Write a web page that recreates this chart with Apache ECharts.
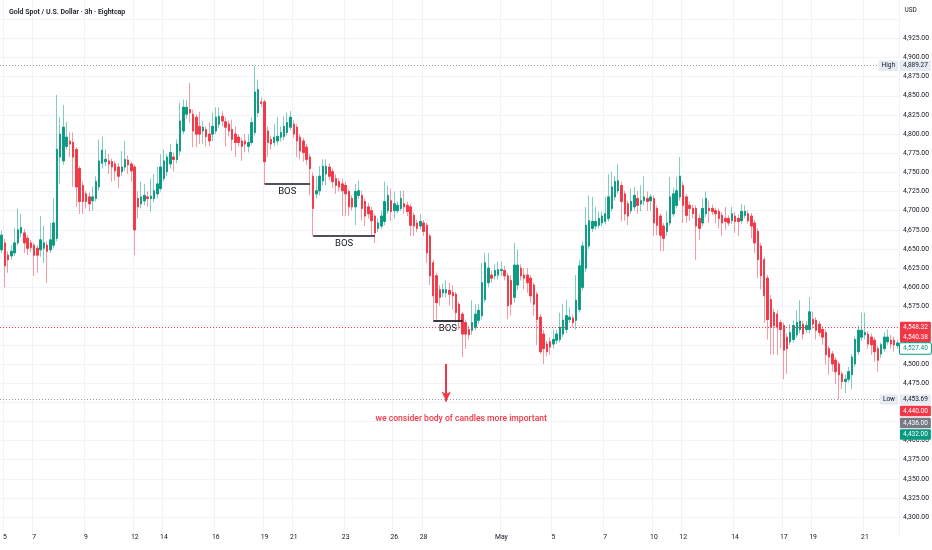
<!DOCTYPE html>
<html><head><meta charset="utf-8">
<script src="https://cdn.jsdelivr.net/npm/echarts@6/dist/echarts.min.js"></script>
<style>html,body{margin:0;padding:0;background:#fff}#c{width:932px;height:550px}</style>
</head><body><div id="c"></div>
<script>
// OHLC values, candle index k = -1 .. 275 (k = 0 is the Sunday 5 Apr candle)
const opens = [
4649,4658,4642,4641,4645,4658,4671,4671,4664,4658,
4655,4651,4649,4651,4655,4649,4655,4664,4770,4765,
4784,4791,4789,4780,4755,4733,4722,4718,4713,4716,
4731,4762,4764,4765,4764,4761,4757,4751,4757,4766,
4761,4757,4716,4709,4713,4718,4716,4716,4722,4729,
4742,4751,4761,4770,4767,4778,4804,4826,4832,4826,
4822,4810,4804,4806,4800,4800,4804,4813,4823,4816,
4813,4806,4800,4796,4791,4791,4784,4789,4802,4828,
4842,4842,4804,4793,4789,4791,4796,4797,4802,4809,
4813,4809,4796,4791,4783,4770,4745,4722,4726,4739,
4748,4757,4751,4742,4738,4735,4733,4725,4716,4705,
4720,4720,4712,4705,4700,4693,4677,4680,4686,4700,
4713,4700,4700,4703,4709,4707,4705,4694,4684,4680,
4684,4681,4667,4632,4615,4597,4593,4593,4596,4593,
4591,4578,4565,4554,4545,4544,4548,4557,4563,4584,
4606,4616,4615,4616,4622,4622,4615,4609,4587,4603,
4625,4616,4616,4612,4603,4591,4561,4539,4526,4529,
4526,4531,4532,4539,4545,4558,4560,4557,4571,4600,
4625,4654,4677,4680,4681,4684,4686,4690,4703,4718,
4726,4733,4722,4709,4700,4705,4716,4709,4713,4716,
4713,4716,4703,4693,4680,4673,4684,4696,4707,4718,
4733,4718,4707,4703,4703,4690,4684,4696,4703,4703,
4700,4699,4694,4690,4690,4687,4693,4690,4687,4694,
4696,4693,4684,4673,4654,4636,4612,4584,4567,4565,
4554,4550,4535,4529,4532,4538,4545,4552,4545,4545,
4558,4557,4552,4545,4541,4520,4513,4505,4500,4487,
4477,4480,4486,4500,4516,4535,4538,4539,4535,4531,
4520,4513,4520,4529,4531,4531,4524];
const closes = [
4668,4628,4636,4647,4658,4675,4678,4658,4651,4652,
4642,4642,4662,4658,4647,4662,4684,4780,4800,4809,
4796,4787,4770,4731,4712,4712,4712,4709,4718,4738,
4765,4779,4767,4761,4757,4752,4745,4757,4767,4760,
4752,4675,4705,4718,4720,4716,4719,4726,4735,4757,
4765,4770,4776,4767,4787,4817,4835,4835,4828,4804,
4800,4800,4809,4797,4791,4810,4822,4823,4817,4809,
4804,4793,4789,4789,4784,4787,4789,4815,4855,4858,
4840,4764,4789,4787,4796,4797,4802,4810,4815,4822,
4800,4791,4778,4776,4767,4755,4703,4726,4745,4758,
4758,4745,4738,4733,4731,4726,4722,4705,4705,4725,
4726,4703,4693,4696,4687,4671,4684,4693,4712,4720,
4699,4709,4707,4716,4705,4699,4681,4680,4677,4686,
4673,4645,4615,4589,4580,4587,4597,4597,4591,4589,
4567,4557,4539,4539,4538,4554,4565,4570,4606,4632,
4625,4612,4622,4623,4623,4615,4576,4578,4629,4629,
4615,4612,4606,4589,4578,4558,4516,4520,4516,4522,
4532,4539,4548,4557,4563,4561,4554,4583,4628,4654,
4681,4687,4686,4686,4690,4693,4696,4718,4731,4738,
4739,4712,4696,4693,4712,4720,4707,4713,4718,4712,
4718,4684,4681,4668,4664,4684,4718,4722,4726,4745,
4707,4694,4703,4696,4680,4677,4703,4716,4700,4699,
4696,4690,4684,4686,4684,4696,4686,4686,4699,4699,
4687,4680,4658,4636,4615,4589,4558,4548,4550,4548,
4545,4518,4520,4541,4550,4554,4556,4539,4550,4568,
4552,4544,4541,4535,4512,4509,4500,4490,4486,4477,
4480,4490,4509,4532,4544,4544,4541,4526,4525,4516,
4505,4525,4535,4535,4526,4525,4527.4];
const lows = [
4645,4600,4619,4636,4641,4655,4665,4645,4642,4646,
4615,4619,4640,4632,4606,4645,4651,4660,4735,4760,
4780,4770,4731,4705,4696,4696,4703,4699,4700,4712,
4726,4755,4758,4748,4738,4739,4729,4745,4752,4748,
4738,4642,4690,4703,4707,4705,4699,4711,4716,4725,
4738,4745,4755,4751,4762,4772,4800,4820,4815,4783,
4783,4787,4787,4784,4784,4791,4800,4808,4810,4784,
4797,4778,4770,4784,4765,4776,4776,4786,4798,4822,
4835,4735,4770,4780,4784,4786,4790,4792,4798,4805,
4795,4770,4767,4764,4760,4720,4667,4716,4720,4733,
4733,4740,4730,4722,4725,4693,4693,4693,4700,4681,
4715,4687,4680,4690,4667,4658,4672,4676,4681,4696,
4687,4690,4696,4700,4696,4693,4667,4667,4672,4676,
4667,4632,4603,4557,4558,4576,4587,4587,4576,4571,
4554,4545,4509,4520,4532,4538,4544,4552,4558,4580,
4600,4606,4610,4610,4615,4609,4558,4563,4580,4597,
4609,4597,4593,4580,4563,4525,4513,4500,4510,4512,
4520,4526,4528,4535,4540,4554,4548,4545,4567,4596,
4620,4650,4672,4675,4677,4680,4682,4686,4699,4713,
4722,4686,4687,4681,4696,4700,4696,4699,4707,4700,
4700,4667,4668,4647,4647,4667,4680,4692,4703,4713,
4684,4684,4687,4690,4636,4662,4680,4692,4684,4694,
4684,4677,4667,4675,4680,4683,4671,4667,4683,4690,
4683,4664,4645,4612,4597,4554,4532,4512,4512,4512,
4520,4480,4487,4525,4528,4534,4540,4532,4540,4540,
4546,4532,4536,4525,4499,4486,4490,4474,4453.69,4467,
4462,4476,4467,4496,4512,4530,4532,4520,4512,4503,
4490,4508,4516,4525,4520,4516,4520];
const highs = [
4674,4663,4647,4655,4677,4703,4696,4676,4668,4662,
4658,4655,4693,4680,4660,4684,4716,4851,4822,4838,
4816,4802,4802,4783,4758,4738,4726,4724,4731,4745,
4793,4797,4780,4774,4768,4765,4762,4778,4791,4772,
4764,4760,4726,4738,4735,4725,4742,4748,4757,4774,
4780,4774,4787,4776,4793,4841,4845,4845,4867,4832,
4826,4829,4817,4810,4815,4828,4835,4835,4830,4822,
4818,4819,4810,4800,4795,4800,4800,4822,4889.27,4871,
4848,4845,4810,4798,4813,4822,4810,4823,4828,4830,
4818,4813,4800,4795,4787,4774,4750,4745,4758,4767,
4767,4762,4755,4748,4742,4742,4738,4728,4720,4735,
4739,4726,4716,4710,4705,4696,4690,4700,4738,4733,
4729,4725,4712,4726,4726,4712,4709,4698,4688,4696,
4688,4684,4670,4636,4619,4603,4605,4609,4606,4603,
4594,4581,4568,4558,4550,4583,4578,4578,4632,4645,
4645,4622,4630,4634,4634,4628,4619,4616,4658,4649,
4630,4625,4625,4616,4606,4594,4565,4544,4530,4535,
4545,4545,4567,4578,4584,4574,4565,4616,4636,4660,
4705,4720,4718,4705,4699,4699,4718,4748,4751,4745,
4761,4738,4726,4713,4729,4731,4726,4733,4745,4725,
4722,4720,4707,4696,4684,4700,4744,4730,4744,4770,
4738,4722,4712,4708,4707,4695,4716,4725,4713,4708,
4704,4703,4698,4705,4694,4705,4698,4695,4709,4707,
4700,4697,4688,4677,4658,4640,4616,4590,4572,4570,
4558,4554,4540,4552,4557,4570,4583,4556,4556,4587,
4568,4561,4556,4549,4545,4524,4517,4509,4503,4490,
4486,4496,4513,4536,4550,4567,4567,4543,4540,4535,
4524,4528,4541,4545,4538,4536,4532];

// time axis
const firstCategory = '2026-04-02 21:00';
const dayCandles = [1, 8, 8, 8, 8, 7]; // Sun..Fri candles per day (3h)
const tickDates = ['2026-04-05','2026-04-07','2026-04-09','2026-04-12','2026-04-14','2026-04-16',
  '2026-04-19','2026-04-21','2026-04-23','2026-04-26','2026-04-28','2026-05-01','2026-05-05',
  '2026-05-07','2026-05-10','2026-05-12','2026-05-14','2026-05-17','2026-05-19','2026-05-21'];
const tickLabels = ['5','7','9','12','14','16','19','21','23','26','28','May','5','7','10','12','14','17','19','21'];

// annotations: [startK, endK, price]
const bosLines = [[80, 94, 4735], [95, 114, 4667], [132, 141, 4556]];
const arrowK = 136, arrowFrom = 4500, arrowTo = 4451, noteK = 136, notePrice = 4428;
const noteText = 'we consider body of candles more important';
const quoteTags = [4548.32, 4540.38, 4527.40];
const orderTags = [4440.00, 4436.00, 4432.00];
const yTickMin = 4300, yTickMax = 4925;

function pad(n){ return (n < 10 ? '0' : '') + n; }
function isoDay(dt){ return dt.getUTCFullYear() + '-' + pad(dt.getUTCMonth()+1) + '-' + pad(dt.getUTCDate()); }
function fmt(v){ const s = v.toFixed(2).split('.'); return s[0].replace(/\B(?=(\d{3})+(?!\d))/g, ',') + '.' + s[1]; }

const categories = [firstCategory];
let t = Date.UTC(2026, 3, 5);
while (categories.length < opens.length) {
  const dt = new Date(t); const dow = dt.getUTCDay();
  if (dow <= 5) {
    const n = dayCandles[dow], start = dow === 0 ? 21 : 0;
    for (let i = 0; i < n && categories.length < opens.length; i++) categories.push(isoDay(dt) + ' ' + pad(start + 3*i) + ':00');
  }
  t += 86400000;
}
const tickIndex = {};
tickDates.forEach((d, j) => { const i = categories.findIndex(c => c.indexOf(d) === 0); if (i >= 0) tickIndex[i] = tickLabels[j]; });
const cat = k => categories[k + 1];

const ohlc = opens.map((o, i) => [o, closes[i], lows[i], highs[i]]);
const bodies = opens.map((o, i) => [o, closes[i], Math.min(o, closes[i]), Math.max(o, closes[i])]);
const maxHigh = Math.max.apply(null, highs);
const minLow = Math.min.apply(null, lows);

const UP = '#089981', DOWN = '#f23645';
const W = 3.254, GRID_LEFT = 3 - 1.5 * W, GRID_RIGHT = 932 - (GRID_LEFT + opens.length * W);
const Y_TOP = 33 - 50 * 0.7744, Y_BOT = 33 + 650 * 0.7744;

const markLines = [
  {yAxis: maxHigh, lineStyle: {color: '#9598a1', type: [1, 2], width: 1}},
  {yAxis: minLow, lineStyle: {color: '#9598a1', type: [1, 2], width: 1}},
  {yAxis: quoteTags[0], lineStyle: {color: DOWN, type: [1, 2], width: 1}}
];
const markSegs = bosLines.map(b => [
  {coord: [cat(b[0]), b[2]], lineStyle: {color: '#131722', width: 1.7, type: 'solid'},
   label: {show: true, formatter: 'BOS', position: 'insideMiddleBottom', distance: 3, color: '#131722', fontSize: 9.5, fontFamily: 'Roboto'}},
  {coord: [cat(b[1]), b[2]]}
]);
markSegs.push([
  {coord: [cat(arrowK), arrowFrom], symbol: 'none', lineStyle: {color: DOWN, width: 2, type: 'solid'}},
  {coord: [cat(arrowK), arrowTo], symbol: 'arrow', symbolSize: [7, 10]}
]);

const option = {
  animation: false,
  backgroundColor: '#ffffff',
  title: {text: 'Gold Spot / U.S. Dollar · 3h · Eightcap', left: 4, top: 4,
    textStyle: {fontSize: 7, fontWeight: 600, color: '#131722', fontFamily: 'Roboto'}},
  grid: {left: GRID_LEFT, right: GRID_RIGHT, top: Y_TOP, bottom: 550 - Y_BOT},
  xAxis: {type: 'category', data: categories, boundaryGap: true, offset: -6,
    axisLine: {show: false}, axisTick: {show: false},
    axisLabel: {interval: (i) => tickIndex[i] !== undefined, formatter: (v, i) => tickIndex[i] || '',
      fontSize: 6.8, color: '#131722', margin: 3, fontFamily: 'Roboto'},
    splitLine: {show: true, interval: (i) => tickIndex[i] !== undefined, lineStyle: {color: '#f2f3f6', width: 1}}},
  yAxis: {type: 'value', position: 'right', min: 4275, max: 4975, interval: 25, scale: true,
    axisLine: {show: false}, axisTick: {show: false},
    axisLabel: {formatter: v => (v < yTickMin || v > yTickMax) ? '' : fmt(v), fontSize: 6.8, color: '#131722', margin: 4, fontFamily: 'Roboto'},
    splitLine: {show: true, showMinLine: false, showMaxLine: false, lineStyle: {color: '#f0f3fa', width: 1}}},
  series: [
    {type: 'candlestick', data: ohlc, barWidth: '60%', z: 2,
      itemStyle: {color: 'rgba(8,153,129,0.5)', color0: 'rgba(242,54,69,0.5)', borderColor: 'rgba(8,153,129,0.5)', borderColor0: 'rgba(242,54,69,0.5)', borderWidth: 1}},
    {type: 'candlestick', data: bodies, barWidth: '60%', z: 3,
      itemStyle: {color: UP, color0: DOWN, borderColor: UP, borderColor0: DOWN, borderWidth: 0.8},
      markLine: {silent: true, animation: false, symbol: ['none', 'none'], label: {show: false},
        data: markLines.concat(markSegs)},
      markPoint: {silent: true, animation: false, data: [
        {coord: [cat(noteK), notePrice], symbol: 'rect', symbolSize: 1, itemStyle: {color: 'rgba(0,0,0,0)'},
         label: {show: true, position: 'inside', offset: [15, 0], formatter: noteText, color: DOWN, fontSize: 8.6, fontWeight: 500, fontFamily: 'Roboto'}}
      ]}}
  ]
};

const chart = echarts.init(document.getElementById('c'));
chart.setOption(option);

// price-axis tags
const axisX = 932 - GRID_RIGHT;
const tagFont = '6.5px Roboto';
const tags = [
  {v: maxHigh, bg: '#e6eaf3', fg: '#131722', dy: 0, pre: 'High'},
  {v: minLow, bg: '#e6eaf3', fg: '#131722', dy: 0, pre: 'Low'},
  {v: quoteTags[0], bg: DOWN, fg: '#ffffff', dy: 0},
  {v: quoteTags[1], bg: DOWN, fg: '#ffffff', dy: 4},
  {v: quoteTags[2], bg: '#ffffff', fg: UP, dy: 5.5, border: UP},
  {v: orderTags[0], bg: DOWN, fg: '#ffffff', dy: 1},
  {v: orderTags[1], bg: '#787b86', fg: '#ffffff', dy: 10},
  {v: orderTags[2], bg: UP, fg: '#ffffff', dy: 18.5}
];
const g = [];
tags.forEach(tg => {
  const y = chart.convertToPixel({yAxisIndex: 0}, tg.v) + tg.dy;
  g.push({type: 'text', x: axisX + 0.5, y: y, z: 100,
    style: {text: fmt(tg.v), font: tagFont, fill: tg.fg, backgroundColor: tg.bg, padding: [2, 3, 1.5, 3],
      borderColor: tg.border || tg.bg, borderWidth: tg.border ? 1 : 0, borderRadius: 1, align: 'left', verticalAlign: 'middle'}});
  if (tg.pre) g.push({type: 'text', x: axisX - 1.5, y: y, z: 100,
    style: {text: tg.pre, font: tagFont, fill: '#131722', backgroundColor: tg.bg, padding: [2, 3, 1.5, 3], borderRadius: 1, align: 'right', verticalAlign: 'middle'}});
});
g.push({type: 'text', x: axisX + 5, y: 10, z: 100, style: {text: 'USD', font: '6.5px Roboto', fill: '#131722', align: 'left', verticalAlign: 'middle'}});
chart.setOption({graphic: g});
</script></body></html>
